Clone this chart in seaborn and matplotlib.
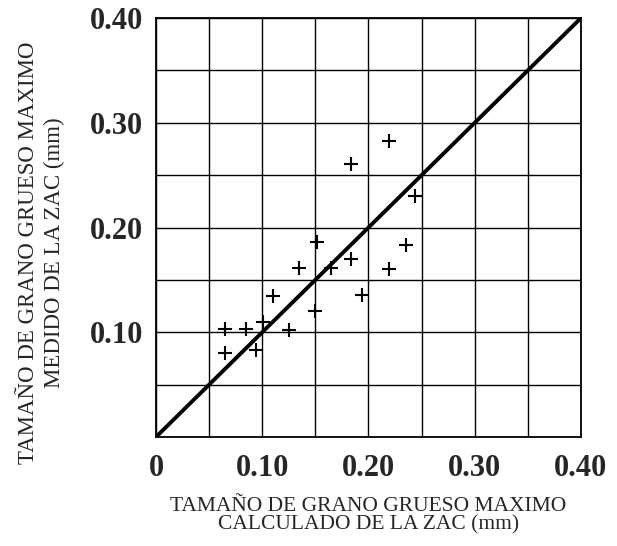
import matplotlib
matplotlib.use("Agg")
import matplotlib.pyplot as plt
import seaborn as sns
import numpy as np
import pandas as pd

# Data
calc_x = [0.219, 0.184, 0.244, 0.1515, 0.235, 0.184, 0.135, 0.165, 0.219,
          0.110, 0.194, 0.150, 0.065, 0.085, 0.101, 0.125, 0.065, 0.094]
meas_y = [0.283, 0.261, 0.230, 0.186, 0.183, 0.170, 0.161, 0.161, 0.160,
          0.135, 0.136, 0.120, 0.103, 0.103, 0.110, 0.1025, 0.080, 0.083]
diag_x = [0.0, 0.40]
diag_y = [0.0, 0.40]
x_ticks = [0.0, 0.10, 0.20, 0.30, 0.40]
x_tick_labels = ["0", "0.10", "0.20", "0.30", "0.40"]
y_ticks = [0.10, 0.20, 0.30, 0.40]
y_tick_labels = ["0.10", "0.20", "0.30", "0.40"]
grid_vals = [0.05, 0.10, 0.15, 0.20, 0.25, 0.30, 0.35]

x_label = "TAMAÑO DE GRANO GRUESO MAXIMO\nCALCULADO DE LA ZAC (mm)"
y_label = "TAMAÑO DE GRANO GRUESO MAXIMO\nMEDIDO DE LA ZAC (mm)"

sns.set_style("white")
plt.rcParams['font.family'] = ['Liberation Serif', 'DejaVu Serif']

fig = plt.figure(figsize=(6.17, 5.46), dpi=100)
ax = fig.add_axes([0.2528, 0.1996, 0.6888, 0.7674])

df = pd.DataFrame({"x": calc_x, "y": meas_y})
line_df = pd.DataFrame({"x": diag_x, "y": diag_y})

ax.set_xlim(0, 0.40)
ax.set_ylim(0, 0.40)
ax.set_xticks(grid_vals, minor=True)
ax.set_yticks(grid_vals, minor=True)
ax.grid(True, which="both", color="black", linewidth=1.0)
ax.set_axisbelow(True)

sns.lineplot(data=line_df, x="x", y="y", ax=ax, color="black", linewidth=2.8, zorder=3)
sns.scatterplot(data=df, x="x", y="y", ax=ax, marker="+", s=100, color="black",
                linewidth=1.5, zorder=4)

ax.set_xticks(x_ticks)
ax.set_xticklabels(x_tick_labels, fontsize=22, fontweight="bold")
ax.set_yticks(y_ticks)
ax.set_yticklabels(y_tick_labels, fontsize=22, fontweight="bold")
ax.tick_params(axis="both", which="both", length=0)
ax.tick_params(axis="x", pad=12)
ax.tick_params(axis="y", pad=9)

for s in ax.spines.values():
    s.set_color("black")
    s.set_linewidth(1.3)

ax.set_xlabel(x_label, fontsize=15.5, labelpad=10, linespacing=1.0)
ax.set_ylabel(y_label, fontsize=16.5, linespacing=1.3)
ax.yaxis.set_label_coords(-0.213, 0.439)

fig.savefig("out.png", dpi=100)
